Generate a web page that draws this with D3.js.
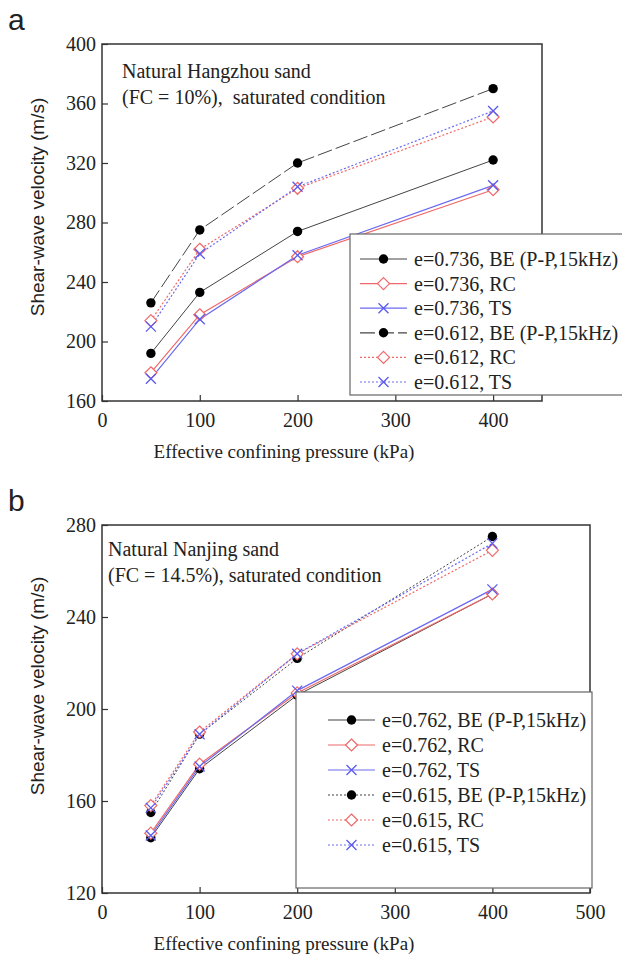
<!DOCTYPE html>
<html>
<head>
<meta charset="utf-8">
<script src="https://cdn.jsdelivr.net/npm/d3@7"></script>
<style>
  body { margin: 0; background: #fff; }
</style>
</head>
<body>
<script>
var pressure = [50, 100, 200, 400];

// panel a : Hangzhou sand
var aNames = ["e=0.736, BE (P-P,15kHz)", "e=0.736, RC", "e=0.736, TS",
              "e=0.612, BE (P-P,15kHz)", "e=0.612, RC", "e=0.612, TS"];
var aBE1 = [192, 233, 274, 322];
var aRC1 = [179, 218, 257, 302];
var aTS1 = [175, 215, 258, 305];
var aBE2 = [226, 275, 320, 370];
var aRC2 = [214, 262, 303, 351];
var aTS2 = [210, 259, 304, 355];
var aXTicks = [0, 100, 200, 300, 400];
var aYTicks = [160, 200, 240, 280, 320, 360, 400];

// panel b : Nanjing sand
var bNames = ["e=0.762, BE (P-P,15kHz)", "e=0.762, RC", "e=0.762, TS",
              "e=0.615, BE (P-P,15kHz)", "e=0.615, RC", "e=0.615, TS"];
var bBE1 = [144, 174, 206, 250];
var bRC1 = [146, 176, 207, 250];
var bTS1 = [145, 175, 208, 252];
var bBE2 = [155, 189, 222, 275];
var bRC2 = [158, 190, 224, 269];
var bTS2 = [157, 189, 224, 272];
var bXTicks = [0, 100, 200, 300, 400, 500];
var bYTicks = [120, 160, 200, 240, 280];

var w = 622, h = 964;
var serif = "'Liberation Serif', 'Times New Roman', serif";
var sans = "'Liberation Sans', Arial, sans-serif";

var svg = d3.select("body").append("svg")
    .attr("width", w)
    .attr("height", h);

// marker kinds: 0 dot, 1 diamond, 2 cross
var kinds = [0, 1, 2, 0, 1, 2];
var colors = ["#444", "#f06868", "#6a6af0", "#444", "#f06868", "#6a6af0"];

function marker(g, kind, x, y) {
  if (kind == 0) {
    g.append("circle").attr("cx", x).attr("cy", y).attr("r", 4.7).attr("fill", "#000");
  } else if (kind == 1) {
    g.append("path")
      .attr("d", "M" + x + "," + (y - 6) + "L" + (x + 6) + "," + y + "L" + x + "," + (y + 6) + "L" + (x - 6) + "," + y + "Z")
      .attr("fill", "#fff").attr("stroke", "#f06868").attr("stroke-width", 1.2);
  } else {
    g.append("path")
      .attr("d", "M" + (x - 5) + "," + (y - 5) + "L" + (x + 5) + "," + (y + 5) + "M" + (x - 5) + "," + (y + 5) + "L" + (x + 5) + "," + (y - 5))
      .attr("fill", "none").attr("stroke", "#5a5af0").attr("stroke-width", 1.3);
  }
}

function panel(o) {
  var x = d3.scaleLinear().domain(o.xd).range([102, o.right]);
  var y = d3.scaleLinear().domain(o.yd).range([o.bottom, o.top]);
  var g = svg.append("g");

  // panel letter
  svg.append("text")
    .attr("x", 8).attr("y", o.top - 14)
    .style("font-family", sans)
    .style("font-size", "30px")
    .attr("fill", "#222")
    .text(o.letter);

  // series lines then markers
  var line = d3.line()
    .x(function(d, i) { return x(pressure[i]); })
    .y(function(d) { return y(d); });

  o.series.forEach(function(s, i) {
    g.append("path")
      .attr("d", line(s))
      .attr("fill", "none")
      .attr("stroke", colors[i])
      .attr("stroke-width", i % 3 == 0 ? 1 : 1.2)
      .attr("stroke-dasharray", o.dash[i]);
  });
  o.series.forEach(function(s, i) {
    s.forEach(function(v, j) { marker(g, kinds[i], x(pressure[j]), y(v)); });
  });

  // frame
  svg.append("rect")
    .attr("x", 102).attr("y", o.top)
    .attr("width", o.right - 102).attr("height", o.bottom - o.top)
    .attr("fill", "none").attr("stroke", "#333").attr("stroke-width", 1.5);

  var xAxis = d3.axisBottom(x).tickValues(o.xt).tickSize(-6).tickFormat(d3.format("d"));
  var yAxis = d3.axisLeft(y).tickValues(o.yt).tickSize(-6).tickFormat(d3.format("d"));

  var gx = svg.append("g").attr("transform", "translate(0," + o.bottom + ")").call(xAxis);
  var gy = svg.append("g").attr("transform", "translate(102,0)").call(yAxis);
  [gx, gy].forEach(function(a) {
    a.attr("font-family", null).attr("font-size", null);
    a.select(".domain").remove();
    a.selectAll(".tick line").attr("stroke", "#333").attr("stroke-width", 1.2);
    a.selectAll(".tick text")
      .style("font-family", serif)
      .style("font-size", "20px").attr("fill", "#222");
  });
  gx.selectAll(".tick text").attr("y", 12);
  gy.selectAll(".tick text").attr("x", -6);

  // axis titles
  svg.append("text")
    .attr("x", 284).attr("y", o.bottom + 57)
    .attr("text-anchor", "middle")
    .style("font-family", serif)
    .style("font-size", "19px")
    .attr("fill", "#222")
    .text("Effective confining pressure (kPa)");

  svg.append("text")
    .attr("transform", "translate(44," + o.ymid + ") rotate(-90)")
    .attr("text-anchor", "middle")
    .style("font-family", sans)
    .style("font-size", "19px")
    .attr("fill", "#222")
    .text("Shear-wave velocity (m/s)");

  // note text
  o.note.forEach(function(t, i) {
    svg.append("text")
      .attr("x", o.noteX).attr("y", o.noteY + i * 26)
      .style("font-family", serif)
      .style("font-size", "20px")
      .style("white-space", "pre")
      .attr("fill", "#222")
      .text(t);
  });

  // legend
  var lg = svg.append("g");
  lg.append("rect")
    .attr("x", o.lg[0]).attr("y", o.lg[1])
    .attr("width", o.lg[2] - o.lg[0]).attr("height", o.lg[3] - o.lg[1])
    .attr("fill", "#fff").attr("stroke", "#666").attr("stroke-width", 1.2);
  o.names.forEach(function(n, i) {
    var ry = o.lg[1] + o.rowTop + i * o.rowH;
    lg.append("line")
      .attr("x1", o.lx).attr("x2", o.lx + 47)
      .attr("y1", ry).attr("y2", ry)
      .attr("stroke", colors[i]).attr("stroke-width", 1.2)
      .attr("stroke-dasharray", o.dash[i]);
    marker(lg, kinds[i], o.lx + 23.5, ry);
    lg.append("text")
      .attr("x", o.lx + 54).attr("y", ry + 7)
      .style("font-family", serif)
      .style("font-size", "20px")
      .attr("fill", "#222")
      .text(n);
  });
}

panel({
  letter: "a",
  xd: [0, 450], right: 542,
  yd: [160, 400], top: 44, bottom: 401,
  xt: aXTicks, yt: aYTicks,
  ymid: 207,
  series: [aBE1, aRC1, aTS1, aBE2, aRC2, aTS2],
  names: aNames,
  dash: [null, null, null, "15,4", "2,2", "2,2"],
  note: ["Natural Hangzhou sand", "(FC = 10%),  saturated condition"],
  noteX: 122, noteY: 78,
  lg: [350, 234, 640, 395], lx: 360, rowTop: 25, rowH: 24.6
});

panel({
  letter: "b",
  xd: [0, 500], right: 590,
  yd: [120, 280], top: 525, bottom: 893,
  xt: bXTicks, yt: bYTicks,
  ymid: 686,
  series: [bBE1, bRC1, bTS1, bBE2, bRC2, bTS2],
  names: bNames,
  dash: [null, null, null, "2,2", "2,2", "2,2"],
  note: ["Natural Nanjing sand", "(FC = 14.5%), saturated condition"],
  noteX: 108, noteY: 556,
  lg: [296, 692, 592, 888], lx: 328, rowTop: 28, rowH: 25
});
</script>
</body>
</html>
